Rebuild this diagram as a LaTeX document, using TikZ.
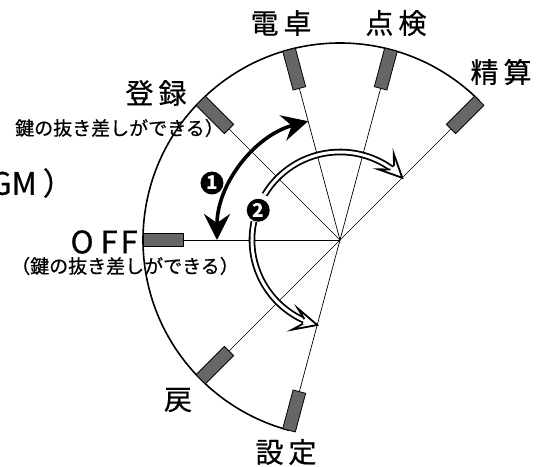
\documentclass[tikz,border=0pt]{standalone}
\usepackage{fontspec}
\setmainfont{Noto Sans CJK JP}
\newfontface\labelfont{Noto Sans CJK JP}[FakeBold=0.6]
\usetikzlibrary{arrows.meta}
\definecolor{tabgray}{RGB}{102,102,102}

\tikzset{
  rim/.style={line width=1.6pt},
  ray/.style={line width=0.7pt},
  keytab/.style={draw=black,line width=0.8pt,fill=tabgray},
  posname/.style={font=\labelfont\fontsize{28}{28}\selectfont,inner sep=0pt},
  note/.style={font=\labelfont\fontsize{19}{19}\selectfont,inner sep=0pt},
  bigname/.style={font=\labelfont\fontsize{31}{31}\selectfont,inner sep=0pt},
  stepno/.style={circle,fill=black,text=white,inner sep=0pt,minimum size=23pt,
    font=\fontsize{19}{19}\selectfont\bfseries},
  turn/.style={line width=3.6pt,
    {Stealth[length=26pt,width=26pt,inset=9pt]}-{Stealth[length=26pt,width=26pt,inset=9pt]}},
  push/.style={double,double distance=3pt,line width=1.8pt},
  hollowhead/.pic={
    \fill[white] (0,0) -- (-23,11) -- (-14,2.4) -- (-14,-2.4) -- (-23,-11) -- cycle;
    \draw[line width=1.8pt,line join=miter] (-14,2.4) -- (-23,11) -- (0,0) -- (-23,-11) -- (-14,-2.4);
  },
}

\begin{document}
\begin{tikzpicture}[x=1pt,y=1pt]
\useasboundingbox (-340,-226) rectangle (206,240);

\coordinate (O) at (0,0);

% outer rim of the dial
\draw[rim] (45:197) arc[start angle=45,end angle=255,radius=197pt];

% key positions
\foreach \a in {45,75,105,135,180,225,255}{
  \draw[ray] (O) -- (\a:157);
  \draw[keytab,rotate=\a] (157,-6.5) rectangle (197,6.5);
}

% position names
\node[posname] (dentaku) at (-59,217) {電\hspace{5pt}卓};
\node[posname] (tenken) at (56,217) {点\hspace{5pt}検};
\node[posname] (seisan) at (161,168) {精\hspace{5pt}算};
\node[posname] (touroku) at (-184,147) {登\hspace{5pt}録};
\node[posname] (modoshi) at (-162,-160) {戻};
\node[posname] (settei) at (-54,-212) {設\hspace{5pt}定};
\node[bigname,anchor=east] (off) at (-202,-2) {O\hspace{7pt}F\hspace{3pt}F};
\node[bigname,anchor=east] (gm) at (-266,57) {GM\hspace{6pt}）};

% notes under the names
\node[note,anchor=west] (keyup) at (-325,112) {鍵の抜き差しができる）};
\node[note,anchor=west] (keyoff) at (-329,-26) {（鍵の抜き差しができる）};

% turning the key
\coordinate (t1s) at (180:123);
\draw[turn] (t1s) arc[start angle=180,end angle=105,radius=123pt];
\node[stepno] (n1) at (-128,57) {1};

% pushing and turning
\node[stepno] (n2) at (160:87) {2};
\coordinate (t2a) at (149:88);
\coordinate (t2b) at (168:88);
\draw[push] (t2a) arc[start angle=149,end angle=53,radius=88pt];
\draw[push] (t2b) arc[start angle=168,end angle=247,radius=88pt];
\pic[rotate=-45] at (45:88) {hollowhead};
\pic[rotate=-15] at (255:88) {hollowhead};
\end{tikzpicture}
\end{document}
